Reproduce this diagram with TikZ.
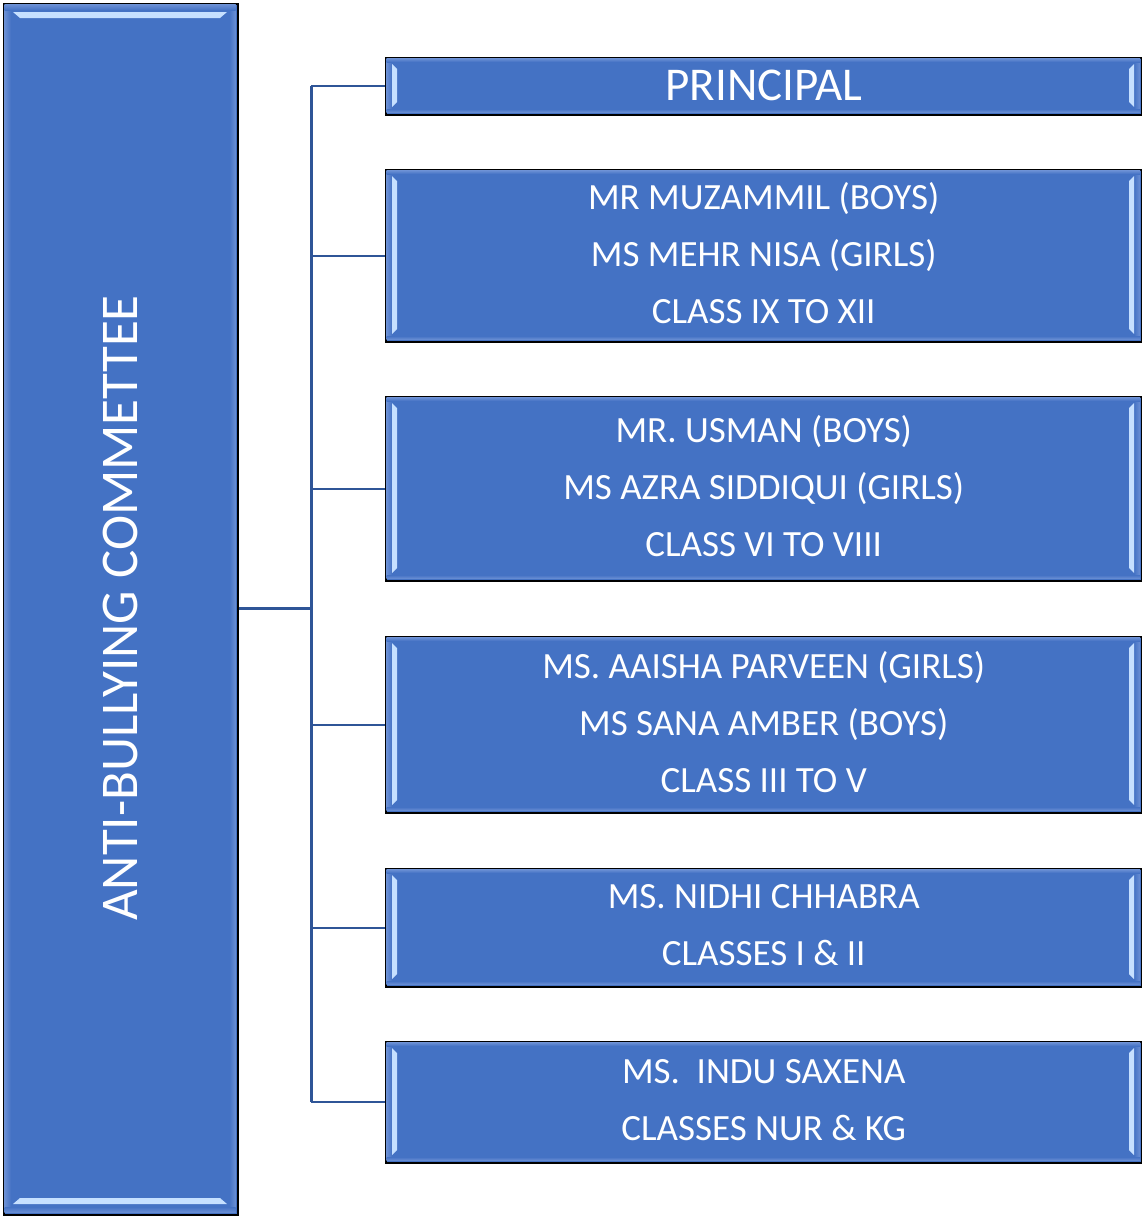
\documentclass[tikz,border=0pt]{standalone}
\usepackage{fontspec}
\setmainfont{Carlito}
\definecolor{boxblue}{HTML}{4472C4}
\definecolor{edgeblue}{HTML}{6A8FD4}
\definecolor{hilite}{HTML}{C6E0FF}
\definecolor{linkblue}{HTML}{2F5597}
\begin{document}
\begin{tikzpicture}[x=1pt,y=-1pt,
  panel/.style={draw=black,line width=1.5pt,fill=boxblue,inner sep=0pt},
  label/.style={inner sep=0pt,text=white,align=center,font=\fontsize{37}{57}\selectfont},
  link/.style={draw=linkblue,line width=3pt}]
\useasboundingbox (0,0) rectangle (1142,1216);
% left tall box
\node[panel,minimum width=234pt,minimum height=1211pt,anchor=north west] (acb) at (3,3) {};
\shade[left color=edgeblue,right color=boxblue] (4.5,4.5) rectangle (11,1212.5);
\shade[right color=edgeblue,left color=boxblue] (229,4.5) rectangle (235.5,1212.5);
\shade[top color=edgeblue,bottom color=boxblue] (4.5,4.5) rectangle (235.5,10);
\shade[bottom color=edgeblue,top color=boxblue] (4.5,1207) rectangle (235.5,1212.5);
\fill[hilite] (13,12) -- (227,12) -- (220,18) -- (20,18) -- cycle;
\fill[hilite] (13,1204) -- (227,1204) -- (220,1198) -- (20,1198) -- cycle;
\node[text=white,rotate=90,font=\fontsize{53}{60}\selectfont] (acbt) at (120,608) {ANTI-BULLYING COMMETTEE};
% right boxes
\newcommand{\rbox}[5]{%
  \node[panel,minimum width=756pt,minimum height=#3pt,anchor=north west] (#1) at (385,#2) {};
  \shade[left color=edgeblue,right color=boxblue] (386.5,#2+1.5) rectangle (392,#2+#3-1.5);
  \shade[right color=edgeblue,left color=boxblue] (1134,#2+1.5) rectangle (1140,#2+#3-1.5);
  \shade[top color=edgeblue,bottom color=boxblue] (386.5,#2+1.5) rectangle (1140,#2+5);
  \shade[bottom color=edgeblue,top color=boxblue] (386.5,#2+#3-5) rectangle (1140,#2+#3-1.5);
  \fill[hilite] (392,#2+7) -- (397,#2+12) -- (397,#2+#3-12) -- (392,#2+#3-7) -- cycle;
  \fill[hilite] (1134,#2+7) -- (1129,#2+12) -- (1129,#2+#3-12) -- (1134,#2+#3-7) -- cycle;
  \node[label,yshift=#4] (#1t) at (#1.center) {#5};
}
\rbox{p}{57}{57}{1pt}{\fontsize{47}{50}\selectfont PRINCIPAL}
\rbox{b1}{169}{172}{2.5pt}{MR MUZAMMIL (BOYS)\\MS MEHR NISA (GIRLS)\\CLASS IX TO XII}
\rbox{b2}{396}{184}{2.5pt}{MR. USMAN (BOYS)\\MS AZRA SIDDIQUI (GIRLS)\\CLASS VI TO VIII}
\rbox{b3}{636}{176}{2.5pt}{MS. AAISHA PARVEEN (GIRLS)\\MS SANA AMBER (BOYS)\\CLASS III TO V}
\rbox{b4}{868}{118}{2.5pt}{MS. NIDHI CHHABRA\\CLASSES I \& II}
\rbox{b5}{1041}{121}{2.5pt}{MS.\ \ INDU SAXENA\\CLASSES NUR \& KG}
% connectors
\coordinate (hub) at (311,608);
\coordinate (top) at (311,85.5);
\coordinate (bot) at (311,1101.5);
\draw[link] (acb.east |- hub) -- (hub);
\draw[link] (top) -- (bot);
\foreach \n in {p,b1,b2,b3,b4,b5} { \draw[link,line width=2.2pt] (\n.west -| hub) -- (\n.west); }
\end{tikzpicture}
\end{document}
